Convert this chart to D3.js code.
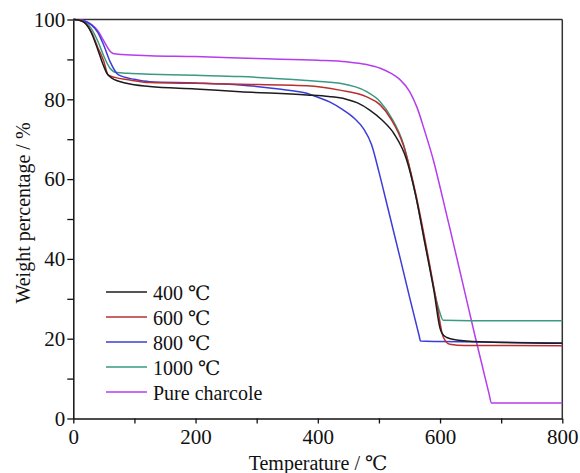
<!DOCTYPE html>
<html>
<head>
<meta charset="utf-8">
<script src="https://cdn.jsdelivr.net/npm/d3@7"></script>
<style>
  html, body { margin: 0; padding: 0; background: #fff; }
  svg { display: block; }
</style>
</head>
<body>
<svg id="chart" width="580" height="473"></svg>
<script>
// ---- data ----
const xTicks = [0, 200, 400, 600, 800];
const yTicks = [0, 20, 40, 60, 80, 100];
const seriesNames = ["400 ℃", "600 ℃", "800 ℃", "1000 ℃", "Pure charcole"];
const seriesColors = ["#1c1c1c", "#b8302e", "#3c3cd6", "#3a9a82", "#b63cf0"];

const temp400 = [0,10,20,30,40,49,55,63,87,125,200,273,382,418,445,465,485,505,525,545,560,575,590,600,603,611,627,665,800];
const w400    = [100,99.8,99,96.5,92.5,88.6,86.5,85.3,84,83.2,82.6,81.9,81.1,80.7,80.1,79.1,77.3,74.8,71.3,65,56,44,32,22.6,21.4,20.3,19.7,19.25,18.85];

const temp600 = [0,10,20,30,40,50,57,68,90,125,200,273,382,436,480,502,520,540,560,580,595,605,616,640,700,800];
const w600    = [100,99.8,99,96.8,93,89.5,86.1,85.5,84.9,84.2,84.0,83.8,83.4,82.3,80.6,78.6,75,68.5,56.5,41,28.5,20.5,18.6,18.3,18.3,18.25];

const temp800 = [0,10,20,30,40,50,60,74,100,125,200,273,340,382,400,420,442,460,475,488,500,515,535,550,560,566,568,600,700,800];
const w800    = [100,99.9,99.5,98.6,96.8,93.5,89.5,86.1,85,84.4,84.1,83.6,82.5,81.5,80.5,79.3,77.3,75.2,72.6,68.6,61.8,52.5,40,30.5,24.3,20.6,19.4,19.3,19.1,18.9];

const temp1000 = [0,10,20,30,40,50,60,71,90,125,200,273,382,436,480,502,520,540,560,580,595,600,605,650,800];
const w1000    = [100,99.9,99.3,97.6,94.6,90.8,87.8,86.7,86.5,86.3,86,85.7,84.7,84,81.9,79.4,75.5,68.8,56,40.5,29,26.4,24.6,24.5,24.5];

const tempPure = [0,10,20,30,40,49,58,65,80,125,200,300,400,447,480,502,520,534,550,562,575,589,605,616,640,657,670,680,684,700,800];
const wPure    = [100,99.9,99.6,98.7,97.2,94.9,92.5,91.5,91.2,90.9,90.7,90.2,89.8,89.4,88.7,87.8,86.5,85,82,78.1,72,64.8,54.8,47.7,32,20.8,12.6,6.3,3.9,3.9,3.9];

const seriesTemps = [temp400, temp600, temp800, temp1000, tempPure];
const seriesW = [w400, w600, w800, w1000, wPure];

// ---- layout ----
const FONT = "'Liberation Serif', 'Times New Roman', Times, 'DejaVu Serif', serif";
const svg = d3.select("#chart").attr("font-family", FONT);
const mLeft = 73.3, mRight = 562.3, mTop = 19.5, mBottom = 418.5;

const x = d3.scaleLinear().domain([0, 800]).range([mLeft, mRight]);
const y = d3.scaleLinear().domain([0, 100]).range([mBottom, mTop]);

// frame top & right
svg.append("line").attr("x1", mLeft).attr("x2", mRight).attr("y1", mTop).attr("y2", mTop)
  .attr("stroke", "#333").attr("stroke-width", 1.5);
svg.append("line").attr("x1", mRight).attr("x2", mRight).attr("y1", mTop).attr("y2", mBottom)
  .attr("stroke", "#333").attr("stroke-width", 1.5);

// axes
const xAxis = d3.axisBottom(x).tickValues(d3.range(0, 801, 100))
  .tickFormat(d => xTicks.includes(d) ? d : "").tickSize(5).tickSizeOuter(0);
const gx = svg.append("g").attr("transform", `translate(0,${mBottom})`).call(xAxis);
gx.attr("font-family", FONT).attr("font-size", 21);
gx.selectAll("text").attr("font-family", FONT).attr("font-size", 21).attr("dy", "0.95em").attr("y", 6).attr("fill", "#111");

const yAxis = d3.axisLeft(y).tickValues(d3.range(0, 101, 10))
  .tickFormat(d => yTicks.includes(d) ? d : "").tickSize(6).tickSizeOuter(0);
const gy = svg.append("g").attr("transform", `translate(${mLeft},0)`).call(yAxis);
gy.attr("font-family", FONT).attr("font-size", 21);
gy.selectAll("text").attr("font-family", FONT).attr("font-size", 21).attr("x", -8).attr("fill", "#111");

[gx, gy].forEach(g => {
  g.select(".domain").attr("stroke", "#111").attr("stroke-width", 1.5);
  g.selectAll(".tick line").attr("stroke", "#111").attr("stroke-width", 1.3);
});

// lines
const line = d3.line().x(d => x(d[0])).y(d => y(d[1])).curve(d3.curveMonotoneX);
const drawOrder = [4, 3, 2, 1, 0];
drawOrder.forEach(i => {
  const pts = seriesTemps[i].map((t, k) => [t, seriesW[i][k]]);
  svg.append("path").datum(pts).attr("d", line)
    .attr("fill", "none").attr("stroke", seriesColors[i]).attr("stroke-width", 1.5);
});

// legend
seriesNames.forEach((name, i) => {
  const base = 300 + i * 25;
  svg.append("line").attr("x1", 106).attr("x2", 147).attr("y1", base - 8).attr("y2", base - 8)
    .attr("stroke", seriesColors[i]).attr("stroke-width", 1.5);
  svg.append("text").attr("x", 153).attr("y", base).attr("font-size", 20)
    .attr("font-family", FONT).attr("fill", "#111").text(name);
});

// axis titles
svg.append("text").attr("transform", `translate(30,213) rotate(-90)`)
  .attr("text-anchor", "middle").attr("font-size", 20).attr("font-family", FONT).attr("fill", "#111")
  .text("Weight percentage / %");
svg.append("text").attr("x", 318).attr("y", 470)
  .attr("text-anchor", "middle").attr("font-size", 20).attr("font-family", FONT).attr("fill", "#111")
  .text("Temperature / ℃");
</script>
</body>
</html>
